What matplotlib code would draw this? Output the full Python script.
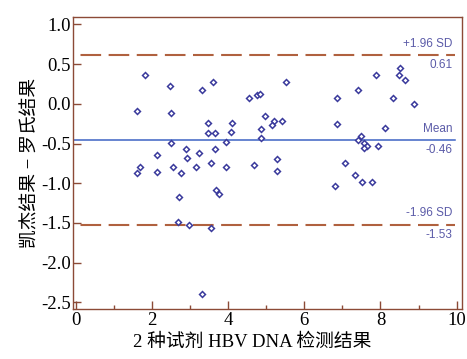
#!/usr/bin/env python
# Bland-Altman plot: 凯杰 vs 罗氏 HBV DNA results
import matplotlib
matplotlib.use("Agg")
import matplotlib.pyplot as plt
from matplotlib.ticker import MultipleLocator

plt.rcParams['font.family'] = ['Liberation Serif', 'Noto Sans CJK SC']
plt.rcParams['axes.unicode_minus'] = True

# mean of the two methods (x) and difference (y)
mean_vals = [1.82, 1.59, 2.47, 2.50, 3.31, 3.59, 3.47, 3.46, 3.65, 4.10,
             4.07, 3.93, 2.50, 2.90, 2.13, 2.92, 3.22, 3.66, 1.68, 1.61,
             2.12, 2.54, 2.75, 3.16, 3.55, 3.94, 2.71, 3.67, 3.75, 2.69,
             2.98, 3.55, 3.32, 8.50, 8.48, 8.64, 7.89, 5.52, 4.55, 4.76,
             4.83, 6.86, 7.42, 8.32, 8.87, 4.97, 5.20, 5.14, 5.40, 4.86,
             4.86, 6.87, 8.13, 7.50, 7.41, 7.56, 7.64, 7.57, 7.94, 4.67,
             5.28, 5.28, 7.06, 7.32, 6.80, 7.51, 7.78]
diff_vals = [0.37, -0.09, 0.22, -0.11, 0.17, 0.28, -0.24, -0.37, -0.37, -0.24,
             -0.35, -0.48, -0.49, -0.57, -0.65, -0.68, -0.62, -0.57, -0.79, -0.87,
             -0.86, -0.79, -0.87, -0.79, -0.74, -0.79, -1.17, -1.08, -1.14, -1.49,
             -1.52, -1.57, -2.39, 0.45, 0.37, 0.30, 0.37, 0.27, 0.08, 0.11,
             0.12, 0.08, 0.18, 0.08, 0.00, -0.15, -0.21, -0.26, -0.21, -0.32,
             -0.43, -0.25, -0.30, -0.40, -0.45, -0.49, -0.53, -0.55, -0.53, -0.77,
             -0.70, -0.84, -0.74, -0.89, -1.03, -0.99, -0.98]

mean_diff = -0.46
upper_loa = 0.61
lower_loa = -1.53

spine_col = "#8c4a36"
dash_col = "#b0613f"
text_col = "#5b5ba8"

fig = plt.figure(figsize=(4.67, 3.59), dpi=100)
ax = fig.add_axes([0.157, 0.138, 0.833, 0.815])

xmin, xmax = -0.07, 10.15
ax.plot([xmin, 9.95], [mean_diff, mean_diff], color="#3d63c4", linewidth=1.1)
for v in (upper_loa, lower_loa):
    ax.plot([xmin, 9.95], [v, v], color=dash_col, linewidth=1.5,
            linestyle=(9.9, (9.9, 3.6)))

ax.plot(mean_vals, diff_vals, linestyle="none", marker="D", markersize=3.0,
        markerfacecolor="white", markeredgecolor="#3a3a9c", markeredgewidth=1.1)

labels = [(upper_loa, "+1.96 SD", "0.61"),
          (mean_diff, "Mean", "-0.46"),
          (lower_loa, "-1.96 SD", "-1.53")]
for v, top, bottom in labels:
    ax.annotate(top, (9.89, v), xytext=(0, 4.2), textcoords="offset points",
                ha="right", va="bottom", fontsize=8.5, color=text_col,
                family="Liberation Sans")
    ax.annotate(bottom, (9.89, v), xytext=(0, -2.5), textcoords="offset points",
                ha="right", va="top", fontsize=8.5, color=text_col,
                family="Liberation Sans")

ax.set_xlim(xmin, xmax)
ax.set_ylim(-2.59, 1.096)
ax.xaxis.set_major_locator(MultipleLocator(2))
ax.xaxis.set_minor_locator(MultipleLocator(1))
ax.set_yticks([1.0, 0.5, 0.0, -0.5, -1.0, -1.5, -2.0, -2.5])
ax.yaxis.set_major_formatter(plt.FormatStrFormatter("%.1f"))

for s in ax.spines.values():
    s.set_color(spine_col)
    s.set_linewidth(1.0)
ax.tick_params(which="major", direction="in", length=6, width=1.0,
               color=spine_col, labelsize=13.5, pad=2)
ax.tick_params(which="minor", direction="in", length=3, width=1.0,
               color=spine_col)
ax.tick_params(axis="y", which="minor", length=0)

ax.set_xlabel("2 种试剂 HBV DNA 检测结果", fontsize=13.5, labelpad=3)
ax.xaxis.label.set_x(0.46)
ax.set_ylabel("凯杰结果 − 罗氏结果", fontsize=13.5, labelpad=1)

plt.savefig("out.png", dpi=100)
